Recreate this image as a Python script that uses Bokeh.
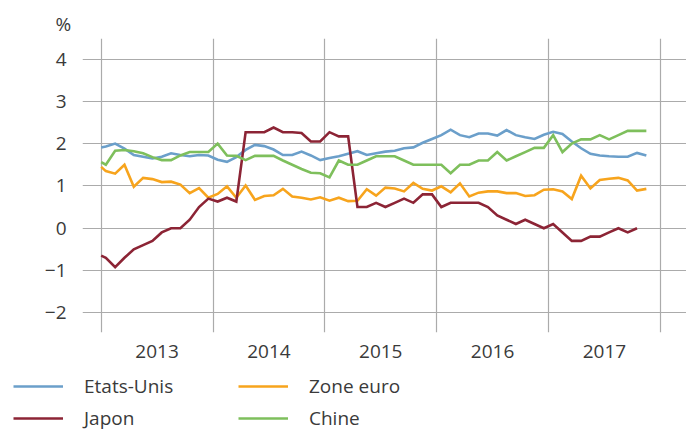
from bokeh.plotting import figure
from bokeh.models import FixedTicker, Legend, LegendItem, Range1d, Title
from bokeh.embed import file_html
from bokeh.resources import INLINE

# Monthly values, Jan 2013 .. Nov 2017 (Japan to Oct 2017); first value = level at 1 Jan 2013
start_year = 2013
etats_unis = [1.91, 1.93, 2.00, 1.88, 1.73, 1.69, 1.65, 1.69, 1.77, 1.73, 1.70, 1.73, 1.72,
              1.62, 1.57, 1.68, 1.85, 1.97, 1.94, 1.86, 1.73, 1.73, 1.81, 1.72, 1.61,
              1.66, 1.70, 1.76, 1.82, 1.73, 1.77, 1.81, 1.83, 1.89, 1.91, 2.02, 2.11,
              2.20, 2.33, 2.20, 2.15, 2.24, 2.24, 2.19, 2.32, 2.20, 2.15, 2.11, 2.21,
              2.28, 2.23, 2.05, 1.89, 1.76, 1.72, 1.70, 1.69, 1.69, 1.78, 1.72]
zone_euro = [1.45, 1.35, 1.29, 1.50, 0.98, 1.19, 1.16, 1.09, 1.10, 1.03, 0.83, 0.95, 0.72,
             0.81, 0.99, 0.72, 1.01, 0.67, 0.76, 0.78, 0.93, 0.75, 0.72, 0.68, 0.73,
             0.65, 0.72, 0.64, 0.65, 0.92, 0.77, 0.96, 0.94, 0.87, 1.07, 0.93, 0.89,
             0.99, 0.85, 1.06, 0.75, 0.84, 0.87, 0.87, 0.83, 0.83, 0.76, 0.78, 0.91,
             0.92, 0.87, 0.69, 1.24, 0.94, 1.14, 1.17, 1.19, 1.13, 0.89, 0.93]
japon = [-0.65, -0.70, -0.92, -0.70, -0.50, -0.40, -0.30, -0.10, 0.00, 0.00, 0.20, 0.50, 0.70,
         0.63, 0.72, 0.63, 2.27, 2.27, 2.27, 2.38, 2.27, 2.27, 2.25, 2.05, 2.05,
         2.27, 2.17, 2.17, 0.50, 0.50, 0.60, 0.50, 0.60, 0.70, 0.60, 0.80, 0.80,
         0.50, 0.60, 0.60, 0.60, 0.60, 0.50, 0.30, 0.20, 0.10, 0.20, 0.10, 0.00,
         0.10, -0.10, -0.30, -0.30, -0.20, -0.20, -0.10, 0.00, -0.10, 0.00]
chine = [1.56, 1.50, 1.83, 1.85, 1.82, 1.77, 1.68, 1.61, 1.61, 1.72, 1.80, 1.80, 1.80,
         2.00, 1.72, 1.71, 1.61, 1.71, 1.71, 1.71, 1.60, 1.50, 1.40, 1.31, 1.30,
         1.20, 1.60, 1.50, 1.50, 1.60, 1.70, 1.70, 1.70, 1.60, 1.50, 1.50, 1.50,
         1.50, 1.30, 1.50, 1.50, 1.60, 1.60, 1.80, 1.60, 1.70, 1.80, 1.90, 1.90,
         2.20, 1.80, 2.00, 2.10, 2.10, 2.20, 2.10, 2.20, 2.30, 2.30, 2.30]
years = [2013, 2014, 2015, 2016, 2017]
y_ticks = [-2, -1, 0, 1, 2, 3, 4]
y_labels = {-2: "\u22122", -1: "\u22121", 0: "0", 1: "1", 2: "2", 3: "3", 4: "4"}
series_names = ["Etats-Unis", "Zone euro", "Japon", "Chine"]
colors = ["#6b9fca", "#f7a41d", "#8c2435", "#7ebf5c"]

FONT = "Open Sans"
FS = "19px"
TXT = "#3a3a3a"
all_series = [etats_unis, zone_euro, japon, chine]


def xs_for(vals):
    # first value sits on 1 Jan 2013, the rest at mid-month positions
    return [start_year] + [start_year + (i + 0.5) / 12.0 for i in range(len(vals) - 1)]


p = figure(width=686, height=370, output_backend="svg", toolbar_location=None,
           x_range=Range1d(2012.833, 2018.234), y_range=Range1d(-2.466, 4.485),
           min_border_left=82, min_border_right=0, min_border_top=38, min_border_bottom=38)
p.outline_line_color = None
p.background_fill_color = "white"

for vals, c in zip(all_series, colors):
    p.line(xs_for(vals), vals, line_color=c, line_width=2.6, line_join="miter")

# grids
p.xgrid.ticker = FixedTicker(ticks=years + [2018])
p.xgrid.grid_line_color = "#ababab"
p.xgrid.grid_line_width = 1.2
p.ygrid.ticker = FixedTicker(ticks=y_ticks)
p.ygrid.grid_line_color = "#ababab"
p.ygrid.grid_line_width = 1.2

# x axis: year labels centred in each year
xa = p.xaxis[0]
xa.ticker = FixedTicker(ticks=[y + 0.5 for y in years])
xa.major_label_overrides = {y + 0.5: str(y) for y in years}
xa.axis_line_color = None
xa.major_tick_line_color = None
xa.minor_tick_line_color = None
xa.major_label_text_font = FONT
xa.major_label_text_font_size = FS
xa.major_label_text_color = TXT
xa.major_label_standoff = 6

ya = p.yaxis[0]
ya.ticker = FixedTicker(ticks=y_ticks)
ya.major_label_overrides = y_labels
ya.axis_line_color = None
ya.major_tick_line_color = None
ya.minor_tick_line_color = None
ya.major_label_text_font = FONT
ya.major_label_text_font_size = FS
ya.major_label_text_color = TXT
ya.major_label_standoff = 10

t = Title(text="%", align="left", offset=-27, standoff=3, text_font=FONT, text_font_size=FS,
          text_font_style="normal", text_color=TXT)
p.add_layout(t, "above")

# legend strip below the chart (same series, drawn outside its visible range)
leg = figure(width=686, height=60, output_backend="svg", toolbar_location=None,
             x_axis_location=None, y_axis_location=None,
             x_range=Range1d(2012.833, 2018.234), y_range=Range1d(100, 101),
             min_border_left=0, min_border_right=0, min_border_top=0, min_border_bottom=0)
leg.grid.visible = False
leg.outline_line_color = None
leg_lines = [leg.line(xs_for(vals), vals, line_color=c, line_width=2.6)
             for vals, c in zip(all_series, colors)]

legend = Legend(items=[LegendItem(label=n, renderers=[r]) for n, r in zip(series_names, leg_lines)],
                orientation="horizontal", ncols=2, location=(13, -1),
                label_text_font=FONT, label_text_font_size=FS, label_text_color=TXT,
                glyph_width=50, glyph_height=24, label_height=24, label_standoff=21,
                label_width=148, spacing=6, padding=0, margin=0, border_line_color=None,
                background_fill_alpha=0)
leg.add_layout(legend, "center")

# two separate roots stacked on the page (no frame alignment between them)
open("out.html", "w").write(file_html([p, leg], INLINE))
